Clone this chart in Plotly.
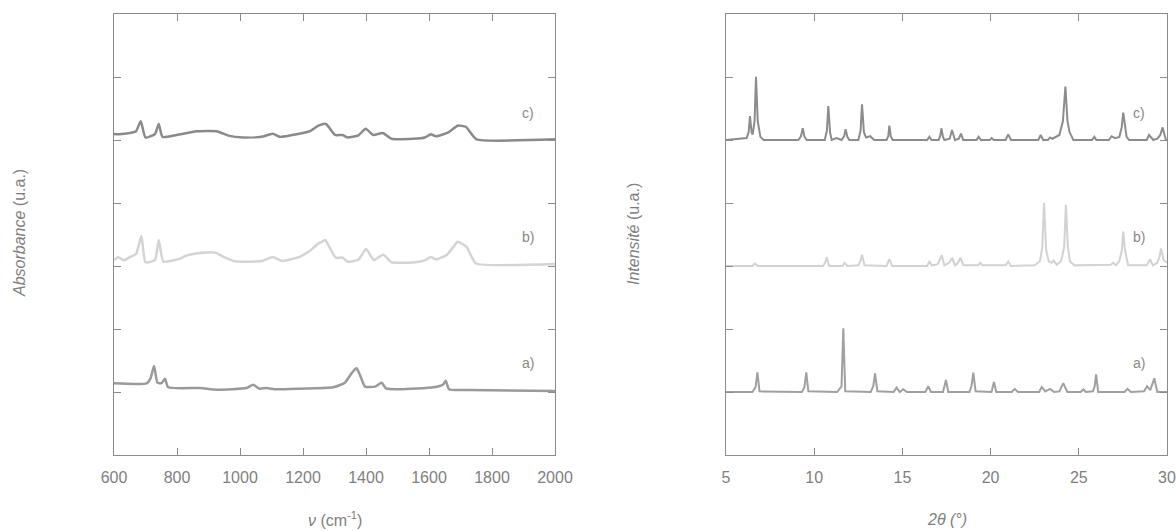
import plotly.graph_objects as go

# ---------------- IR spectra (left panel) ----------------
ir_x_a = [600, 704, 716, 727, 738, 751, 762, 772, 873, 926, 1021, 1042, 1061, 1084, 1116, 1190,
          1296, 1333, 1354, 1370, 1383, 1397, 1429, 1450, 1463, 1508, 1614, 1645, 1653, 1664, 1729, 2000]
ir_y_a = [1.138, 1.138, 1.217, 1.413, 1.148, 1.140, 1.210, 1.074, 1.063, 1.037, 1.063, 1.116, 1.053,
          1.063, 1.042, 1.053, 1.074, 1.148, 1.296, 1.376, 1.243, 1.085, 1.085, 1.148, 1.058, 1.042,
          1.074, 1.120, 1.180, 1.042, 1.032, 1.016]

ir_x_b = [600, 614, 632, 653, 670, 687, 700, 730, 742, 757, 810, 826, 873, 921, 947, 984, 1069, 1104,
          1132, 1180, 1191, 1222, 1249, 1259, 1270, 1286, 1304, 1326, 1341, 1376, 1400, 1425, 1455,
          1481, 1555, 1587, 1606, 1622, 1656, 1677, 1691, 1720, 1733, 1749, 2000]
ir_y_b = [3.095, 3.138, 3.090, 3.148, 3.190, 3.476, 3.060, 3.095, 3.413, 3.070, 3.117, 3.159, 3.206,
          3.212, 3.148, 3.074, 3.080, 3.143, 3.080, 3.132, 3.150, 3.243, 3.360, 3.380, 3.413, 3.280,
          3.132, 3.132, 3.070, 3.100, 3.270, 3.095, 3.180, 3.060, 3.060, 3.090, 3.143, 3.105, 3.175,
          3.300, 3.386, 3.300, 3.170, 3.040, 3.030]

ir_x_c = [600, 617, 650, 670, 685, 700, 730, 742, 754, 799, 862, 926, 963, 1010, 1068, 1104, 1127,
          1180, 1222, 1249, 1273, 1302, 1326, 1341, 1376, 1399, 1423, 1453, 1481, 1550, 1587, 1606,
          1622, 1661, 1691, 1717, 1730, 1751, 2000]
ir_y_c = [5.095, 5.090, 5.110, 5.140, 5.297, 5.040, 5.095, 5.254, 5.050, 5.080, 5.138, 5.140, 5.070,
          5.040, 5.050, 5.100, 5.050, 5.090, 5.140, 5.227, 5.254, 5.080, 5.080, 5.040, 5.075, 5.180,
          5.080, 5.110, 5.020, 5.020, 5.040, 5.090, 5.060, 5.120, 5.227, 5.210, 5.130, 5.010, 5.010]

# ---------------- XRD patterns (right panel) ----------------
xrd_x_a = [5, 6.5, 6.68, 6.78, 6.9, 9.3, 9.45, 9.55, 9.67, 11.3, 11.55, 11.65, 11.76, 13.2, 13.35,
           13.45, 13.58, 14.5, 14.67, 14.85, 15.05, 15.25, 16.3, 16.47, 16.62, 17.3, 17.47, 17.6,
           18.8, 18.92, 19.02, 19.15, 20.05, 20.19, 20.32, 21.2, 21.37, 21.55, 22.75, 22.9, 23.1,
           23.37, 23.6, 23.9, 24.12, 24.35, 25.1, 25.26, 25.4, 25.8, 25.9, 25.98, 26.1, 27.6, 27.76,
           27.95, 28.7, 28.87, 29.05, 29.28, 29.45, 30]
xrd_y_a = [1.0, 1.0, 1.08, 1.312, 1.01, 1.0, 1.08, 1.31, 1.01, 1.0, 1.09, 2.01, 1.01, 1.0, 1.09,
           1.296, 1.01, 1.0, 1.07, 1.0, 1.045, 1.0, 1.0, 1.09, 1.0, 1.0, 1.19, 1.0, 1.0, 1.1, 1.307,
           1.01, 1.0, 1.16, 1.0, 1.0, 1.05, 1.0, 1.0, 1.08, 1.01, 1.05, 1.0, 1.01, 1.14, 1.0, 1.0,
           1.04, 1.0, 1.01, 1.09, 1.28, 1.0, 1.0, 1.05, 1.0, 1.01, 1.09, 1.03, 1.217, 1.0, 1.0]

xrd_x_b = [5, 6.5, 6.64, 6.8, 10.5, 10.63, 10.71, 10.85, 11.6, 11.73, 11.88, 12.5, 12.62, 12.71,
           12.85, 14.1, 14.26, 14.42, 16.4, 16.53, 16.68, 17.0, 17.23, 17.38, 17.65, 17.83, 17.98,
           18.12, 18.3, 18.46, 19.3, 19.42, 19.55, 20.85, 21.0, 21.15, 22.5, 22.8, 22.93, 23.03,
           23.15, 23.3, 23.45, 23.57, 23.75, 24.0, 24.17, 24.27, 24.38, 24.5, 24.75, 26.8, 26.95,
           27.1, 27.3, 27.44, 27.52, 27.62, 27.8, 28.85, 29.04, 29.2, 29.45, 29.58, 29.66, 29.8, 30]
xrd_y_b = [3.0, 3.0, 3.04, 3.0, 3.0, 3.06, 3.138, 3.0, 3.0, 3.05, 3.0, 3.01, 3.08, 3.18, 3.01, 3.0,
           3.11, 3.0, 3.0, 3.07, 3.01, 3.03, 3.17, 3.01, 3.05, 3.13, 3.01, 3.04, 3.13, 3.01, 3.01,
           3.05, 3.01, 3.01, 3.07, 3.0, 3.01, 3.08, 3.3, 4.005, 3.25, 3.07, 3.05, 3.09, 3.02, 3.08,
           3.3, 3.97, 3.3, 3.07, 3.01, 3.02, 3.05, 3.01, 3.08, 3.25, 3.545, 3.25, 3.01, 3.01, 3.106,
           3.01, 3.05, 3.15, 3.28, 3.1, 3.05]

xrd_x_c = [5, 6.17, 6.28, 6.36, 6.45, 6.51, 6.62, 6.70, 6.8, 6.95, 7.13, 9.1, 9.25, 9.35, 9.45,
           9.58, 10.6, 10.72, 10.80, 10.9, 10.99, 11.27, 11.55, 11.7, 11.78, 11.88, 11.99, 12.5,
           12.63, 12.71, 12.82, 12.94, 13.17, 13.4, 14.1, 14.2, 14.26, 14.34, 14.45, 16.4, 16.53,
           16.65, 17.05, 17.14, 17.21, 17.3, 17.38, 17.68, 17.81, 17.98, 18.2, 18.32, 18.45, 19.2,
           19.32, 19.45, 19.95, 20.06, 20.18, 20.85, 21.0, 21.15, 22.7, 22.84, 22.98, 23.25, 23.37,
           23.5, 23.9, 24.1, 24.24, 24.36, 24.47, 24.69, 25.75, 25.88, 26.0, 26.7, 26.86, 27.05,
           27.3, 27.43, 27.52, 27.62, 27.71, 27.85, 28.85, 28.98, 29.22, 29.45, 29.62, 29.75,
           29.86, 29.94, 30]
xrd_y_c = [5.0, 5.03, 5.12, 5.38, 5.12, 5.085, 5.3, 6.005, 5.3, 5.05, 5.0, 5.0, 5.06, 5.186, 5.05,
           5.0, 5.0, 5.15, 5.54, 5.12, 5.0, 5.03, 5.0, 5.06, 5.17, 5.05, 5.0, 5.0, 5.15, 5.566, 5.12,
           5.04, 5.06, 5.0, 5.0, 5.06, 5.227, 5.06, 5.0, 5.0, 5.05, 5.0, 5.0, 5.06, 5.186, 5.05, 5.0,
           5.02, 5.16, 5.0, 5.02, 5.10, 5.0, 5.0, 5.05, 5.0, 5.0, 5.03, 5.0, 5.0, 5.09, 5.0, 5.0,
           5.08, 5.0, 5.0, 5.04, 5.02, 5.08, 5.3, 5.85, 5.3, 5.13, 5.0, 5.0, 5.05, 5.0, 5.0, 5.06,
           5.03, 5.05, 5.2, 5.434, 5.2, 5.05, 5.0, 5.0, 5.08, 5.0, 5.02, 5.08, 5.2, 5.06, 5.0, 5.0]

ir_ticks = [600, 800, 1000, 1200, 1400, 1600, 1800, 2000]
xrd_ticks = [5, 10, 15, 20, 25, 30]
y_ticks = [1, 2, 3, 4, 5, 6]
curve_labels = ["a)", "b)", "c)"]
label_levels = [1.46, 3.46, 5.43]

col_a, col_b, col_c = "#9a9a9a", "#d4d4d4", "#8a8a8a"
xcol_a, xcol_b, xcol_c = "#a0a0a0", "#d2d2d2", "#8c8c8c"
FONT = "Liberation Sans, Arial, sans-serif"
AX = "#8c8c8c"

W, H = 1176, 531
ML, MR, MT, MB = 114, 9, 14, 76
PW, PH = W - ML - MR, H - MT - MB

fig = go.Figure()
for xs, ys, c in [(ir_x_a, ir_y_a, col_a), (ir_x_b, ir_y_b, col_b), (ir_x_c, ir_y_c, col_c)]:
    fig.add_trace(go.Scatter(x=xs, y=ys, mode="lines",
                             line=dict(color=c, width=2.5, shape="spline", smoothing=0.5),
                             xaxis="x", yaxis="y", showlegend=False, hoverinfo="skip"))
for xs, ys, c in [(xrd_x_a, xrd_y_a, xcol_a), (xrd_x_b, xrd_y_b, xcol_b), (xrd_x_c, xrd_y_c, xcol_c)]:
    fig.add_trace(go.Scatter(x=xs, y=ys, mode="lines", line=dict(color=c, width=2),
                             xaxis="x2", yaxis="y2", showlegend=False, hoverinfo="skip"))

axcommon = dict(showline=True, linecolor=AX, linewidth=1, mirror="ticks", ticks="inside",
                ticklen=7, tickcolor=AX, tickwidth=1, showgrid=False, zeroline=False,
                automargin=False, tickfont=dict(family=FONT, size=16, color="#808080"))

fig.update_layout(
    width=W, height=H,
    margin=dict(l=ML, r=MR, t=MT, b=MB, autoexpand=False),
    paper_bgcolor="white", plot_bgcolor="white",
    xaxis=dict(domain=[0, 441 / PW], range=[600, 2000], tickvals=ir_ticks, anchor="y",
               ticklabelstandoff=8, **axcommon),
    yaxis=dict(domain=[0, 1], range=[0, 7], tickvals=y_ticks, showticklabels=False, anchor="x", **axcommon),
    xaxis2=dict(domain=[(726 - ML) / PW, 1], range=[5, 30], tickvals=xrd_ticks, anchor="y2",
                ticklabelstandoff=8, **axcommon),
    yaxis2=dict(domain=[0, 1], range=[0, 7], tickvals=y_ticks, showticklabels=False, anchor="x2", **axcommon),
)


def px2paper(px, py):
    return (px - ML) / PW, 1 - (py - MT) / PH


ann = []
for lab, lv in zip(curve_labels, label_levels):
    ann.append(dict(x=1914, y=lv, xref="x", yref="y", text=lab, showarrow=False,
                    font=dict(family=FONT, size=14, color="#888888")))
    ann.append(dict(x=28.4, y=lv, xref="x2", yref="y2", text=lab, showarrow=False,
                    font=dict(family=FONT, size=14, color="#888888")))

tfont = dict(family=FONT, size=16, color="#808080")
titles = [
    (334.5, 519, "<i>ν</i> (cm<sup>-1</sup>)", 0),
    (946.5, 519, "<i>2θ (°)</i>", 0),
    (19, 233, "<i>Absorbance</i> (u.a.)", -90),
    (633, 234, "<i>Intensité</i> (u.a.)", -90),
]
for px, py, txt, ang in titles:
    xp, yp = px2paper(px, py)
    ann.append(dict(x=xp, y=yp, xref="paper", yref="paper", text=txt, showarrow=False,
                    font=tfont, textangle=ang, xanchor="center", yanchor="middle"))
fig.update_layout(annotations=ann)

fig.write_html("out.html", config={"displayModeBar": False},
               post_script="document.body.style.margin='0';document.body.style.overflow='hidden';")
